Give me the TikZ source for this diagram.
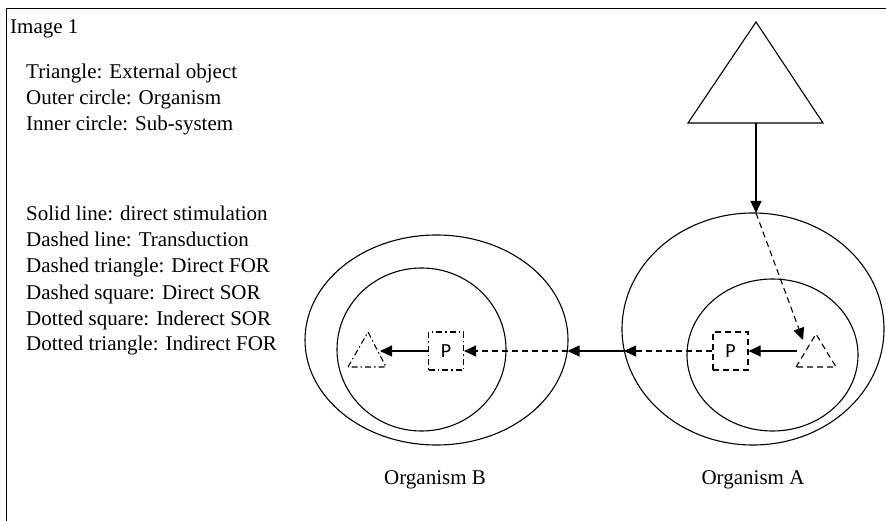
\documentclass[tikz,border=0pt]{standalone}
\usepackage{fontspec}
\setmainfont{Liberation Serif}
\newfontfamily\psans{Carlito}
\usetikzlibrary{arrows.meta,shapes.geometric}
\tikzset{
  ln/.style={line width=1.1pt, draw=black},
  arr/.style={ln, -{Triangle[length=12pt,width=11pt]}},
  dsh/.style={dash pattern=on 6pt off 4pt},
  dshdot/.style={dash pattern=on 6pt off 3pt on 1.5pt off 3pt},
  legend/.style={anchor=base west, inner sep=0pt, font=\fontsize{21}{25}\selectfont},
  pbox/.style={ln, minimum width=35pt, minimum height=38pt, inner sep=0pt, font=\psans\fontsize{20}{24}\selectfont},
  ell/.style={ln, ellipse, inner sep=0pt},
}
\begin{document}
\begin{tikzpicture}[x=1pt,y=-1pt]
\useasboundingbox (0,0) rectangle (886,521);
% frame
\draw[line width=1.3pt] (6.5,521) -- (6.5,8.5) -- (886,8.5);
% texts
\node[legend] (title) at (10,34) {Image 1};
\node[legend] (l1) at (26,79) {Triangle: External object};
\node[legend] (l2) at (26,105) {Outer circle: Organism};
\node[legend] (l3) at (26,131) {Inner circle: Sub-system};
\node[legend] (l4) at (26,221) {Solid line: direct stimulation};
\node[legend] (l5) at (26,247) {Dashed line: Transduction};
\node[legend] (l6) at (26,273) {Dashed triangle: Direct FOR};
\node[legend] (l7) at (26,299) {Dashed square: Direct SOR};
\node[legend] (l8) at (26,325) {Dotted square: Inderect SOR};
\node[legend] (l9) at (26,350) {Dotted triangle: Indirect FOR};
% ellipses
\node[ell, minimum width=263pt, minimum height=210pt] (outerB) at (436.5,340) {};
\node[ell, minimum width=169pt, minimum height=163pt] (innerB) at (421.5,349.5) {};
\node[ell, minimum width=262pt, minimum height=232pt] (outerA) at (753,329) {};
\node[ell, minimum width=171pt, minimum height=152pt] (innerA) at (772.5,355) {};
% labels
\node[legend, anchor=base] (labB) at (435,484) {Organism B};
\node[legend, anchor=base] (labA) at (753,484) {Organism A};
% external triangle
\coordinate (extL) at (688,123);
\coordinate (extT) at (756,22);
\coordinate (extR) at (823,123);
\coordinate (extB) at (756,123);
\draw[ln, line join=miter] (extL) -- (extT) -- (extR) -- cycle;
\coordinate (topA) at (756,213);
\draw[arr] (extB) -- (topA);
% triangle A (dashed)
\coordinate (tAL) at (796,367);
\coordinate (tAT) at (816,334);
\coordinate (tAR) at (836,367);
\draw[ln, dsh] (tAL) -- (tAT) -- (tAR) -- cycle;
\coordinate (tAin) at (803,340);
\coordinate (tAout) at (797,351);
\draw[arr, dsh] (topA) -- (tAin);
% box A
\node[pbox, dsh, draw] (boxA) at (730.5,351) {P};
\draw[arr] (tAout) -- (boxA.east);
\coordinate (edgeA) at (624,351);
\draw[arr, dsh] (boxA.west) -- (edgeA);
\coordinate (edgeB) at (567.5,351);
\draw[arr] (edgeA) -- (edgeB);
% box B
\node[pbox, dshdot, draw] (boxB) at (446,351) {P};
\draw[arr, dsh] (edgeB) -- (boxB.east);
% triangle B (dash-dot)
\coordinate (tBL) at (348,367);
\coordinate (tBT) at (368,332);
\coordinate (tBR) at (386,367);
\draw[ln, dshdot] (tBL) -- (tBT) -- (tBR) -- cycle;
\coordinate (tBin) at (380,351);
\draw[arr] (boxB.west) -- (tBin);
\end{tikzpicture}
\end{document}
